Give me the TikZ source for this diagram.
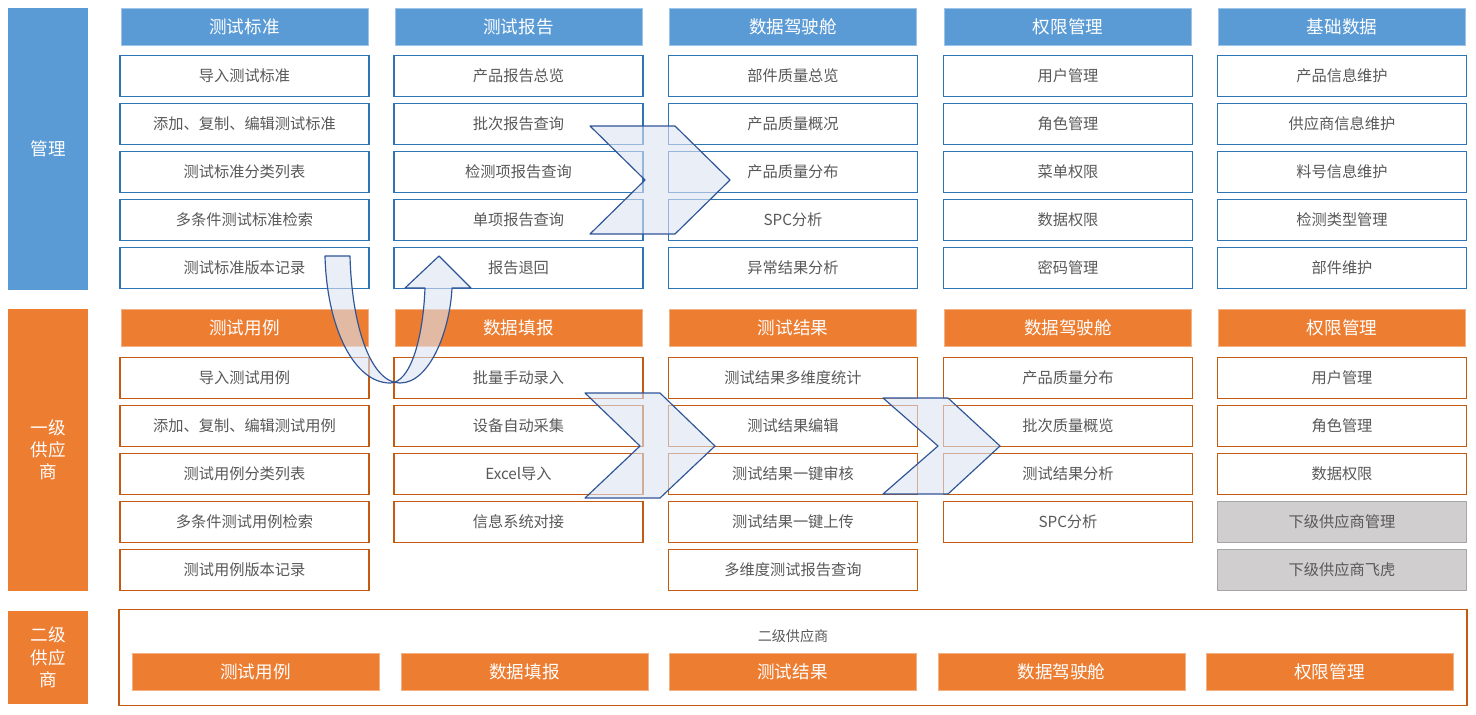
\documentclass[tikz,border=0pt]{standalone}
\usepackage{fontspec}
\setmainfont{Noto Sans CJK SC}
\usetikzlibrary{positioning}
\definecolor{mblue}{HTML}{5B9BD5}
\definecolor{mblueline}{HTML}{2E75B6}
\definecolor{morange}{HTML}{ED7D31}
\definecolor{moline}{HTML}{C55A11}
\definecolor{mtext}{HTML}{595959}
\definecolor{mgray}{HTML}{D0CECE}
\definecolor{mgrayline}{HTML}{A6A6A6}
\definecolor{mflow}{HTML}{DCE4F2}
\definecolor{mflowline}{HTML}{2F5597}
\tikzset{
  side/.style={minimum width=2.4cm,align=center,text=white,font=\fontsize{15}{19}\selectfont,inner sep=0pt},
  bhead/.style={fill=mblue,draw=mblue!60,minimum width=7.41cm,minimum height=1.11cm,text=white,font=\fontsize{15}{18}\selectfont,inner sep=0pt},
  ohead/.style={bhead,fill=morange,draw=morange!60},
  bitem/.style={draw=mblueline,line width=1.2pt,fill=white,minimum width=7.47cm,minimum height=1.23cm,text=mtext,font=\fontsize{13}{16}\selectfont,inner sep=0pt},
  oitem/.style={bitem,draw=moline},
  gitem/.style={bitem,draw=mgrayline,fill=mgray},
  flow/.style={draw=mflowline,line width=1pt,fill=mflow,fill opacity=0.6,line join=round}
}
\begin{document}
\begin{tikzpicture}[x=0.03cm,y=-0.03cm]
  \useasboundingbox (0,0) rectangle (1476,714);
  %side labels
  \node[side,fill=mblue,minimum height=8.46cm] (sm) at (48,149) {管理};
  \node[side,fill=morange,minimum height=8.46cm] (s1) at (48,450) {一级\\供应\\商};
  \node[side,fill=morange,minimum height=2.79cm] (s2) at (48,657.5) {二级\\供应\\商};

  %manage headers
  \foreach \x/\t [count=\i] in {244.5/测试标准,518.5/测试报告,793/数据驾驶舱,1068/权限管理,1342/基础数据}
    \node[bhead] (mh\i) at (\x,26.5) {\t};

  %manage items
  \foreach \t [count=\j] in {导入测试标准,{添加、复制、编辑测试标准},测试标准分类列表,多条件测试标准检索,测试标准版本记录}
    \node[bitem] (m1\j) at (244.5,28+48*\j) {\t};
  \foreach \t [count=\j] in {产品报告总览,批次报告查询,检测项报告查询,单项报告查询,报告退回}
    \node[bitem] (m2\j) at (518.5,28+48*\j) {\t};
  \foreach \t [count=\j] in {部件质量总览,产品质量概况,产品质量分布,SPC分析,异常结果分析}
    \node[bitem] (m3\j) at (793,28+48*\j) {\t};
  \foreach \t [count=\j] in {用户管理,角色管理,菜单权限,数据权限,密码管理}
    \node[bitem] (m4\j) at (1068,28+48*\j) {\t};
  \foreach \t [count=\j] in {产品信息维护,供应商信息维护,料号信息维护,检测类型管理,部件维护}
    \node[bitem] (m5\j) at (1342,28+48*\j) {\t};

  %supplier headers
  \foreach \x/\t [count=\i] in {244.5/测试用例,518.5/数据填报,793/测试结果,1068/数据驾驶舱,1342/权限管理}
    \node[ohead] (oh\i) at (\x,327.5) {\t};

  %supplier items
  \foreach \t [count=\j] in {导入测试用例,{添加、复制、编辑测试用例},测试用例分类列表,多条件测试用例检索,测试用例版本记录}
    \node[oitem] (o1\j) at (244.5,330+48*\j) {\t};
  \foreach \t [count=\j] in {批量手动录入,设备自动采集,Excel导入,信息系统对接}
    \node[oitem] (o2\j) at (518.5,330+48*\j) {\t};
  \foreach \t [count=\j] in {测试结果多维度统计,测试结果编辑,测试结果一键审核,测试结果一键上传,多维度测试报告查询}
    \node[oitem] (o3\j) at (793,330+48*\j) {\t};
  \foreach \t [count=\j] in {产品质量分布,批次质量概览,测试结果分析,SPC分析}
    \node[oitem] (o4\j) at (1068,330+48*\j) {\t};
  \foreach \t [count=\j] in {用户管理,角色管理,数据权限}
    \node[oitem] (o5\j) at (1342,330+48*\j) {\t};
  \node[gitem] (o54) at (1342,522) {下级供应商管理};
  \node[gitem] (o55) at (1342,570) {下级供应商飞虎};

  %second level
  \node[draw=moline,line width=1.2pt,minimum width=40.44cm,minimum height=2.88cm] (sec) at (793,657.5) {};
  \node[text=mtext,font=\fontsize{12}{15}\selectfont] (sect) at (793,636) {二级供应商};
  \foreach \x/\t [count=\i] in {255.5/测试用例,524.5/数据填报,792.5/测试结果,1061.5/数据驾驶舱,1329.5/权限管理}
    \node[ohead] (sh\i) at (\x,672) {\t};

  %flow arrows
  \draw[flow] (590,126) -- (675,126) -- (730,180) -- (675,234) -- (590,234) -- (645,180) -- cycle;
  \draw[flow] (585,393) -- (660,393) -- (715,446) -- (660,498) -- (585,498) -- (640,446) -- cycle;
  \draw[flow] (883,398) -- (948,398) -- (1000,446) -- (948,494) -- (883,494) -- (938,446) -- cycle;
  \draw[flow] (325,256) -- (350,256) .. controls (352,330) and (372,383) .. (400,383)
    .. controls (430,383) and (450,330) .. (452,288) -- (471,288) -- (439,256) -- (405,288)
    -- (425,288) .. controls (423,340) and (410,383) .. (390,383)
    .. controls (355,383) and (327,330) .. (325,256) -- cycle;
\end{tikzpicture}
\end{document}
